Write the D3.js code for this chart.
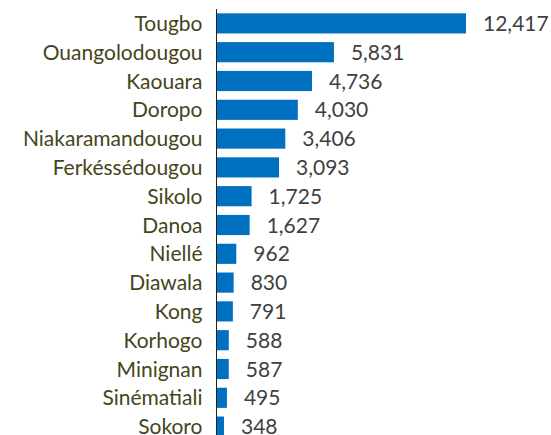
<!DOCTYPE html>
<html>
<head>
<meta charset="utf-8">
<script src="https://cdn.jsdelivr.net/npm/d3@7"></script>
<style>
  body { margin: 0; background: #fff; }
  svg { display: block; }
</style>
</head>
<body>
<script>
let communes = ["Tougbo","Ouangolodougou","Kaouara","Doropo","Niakaramandougou","Ferkéssédougou","Sikolo","Danoa","Niellé","Diawala","Kong","Korhogo","Minignan","Sinématiali","Sokoro"];
let values = [12417,5831,4736,4030,3406,3093,1725,1627,962,830,791,588,587,495,348];

let width = 551, height = 435;
let margin = {left:217, right:0, top:9, bottom:0};

let svg = d3.select("body").append("svg").attr("width",width).attr("height",height);

let x = d3.scaleLinear()
          .domain([0,12417])
          .range([margin.left, margin.left+249]);

let y = d3.scaleBand()
          .domain(communes)
          .range([margin.top, margin.top+15*28.8])
          .paddingInner(0.3)
          .paddingOuter(0.15);

let fmt = d3.format(",");

svg.selectAll("rect.bar")
   .data(values)
   .enter().append("rect")
   .attr("class","bar")
   .attr("x",x(0))
   .attr("y",(d,i)=>y(communes[i]))
   .attr("width",(d)=>x(d)-x(0))
   .attr("height",y.bandwidth())
   .attr("fill","#0070c0");

svg.selectAll("text.val")
   .data(values)
   .enter().append("text")
   .attr("class","val")
   .attr("x",(d)=>x(d)+17)
   .attr("y",(d,i)=>y(communes[i])+y.bandwidth()/2)
   .attr("dy","0.36em")
   .attr("font-family","Lato")
   .attr("font-size","21px")
   .attr("fill","#404040")
   .text((d)=>fmt(d));

let yAxis = d3.axisLeft(y).tickSize(0).tickPadding(14);
let ax = svg.append("g")
   .attr("transform","translate("+(margin.left-0.5)+",0)")
   .call(yAxis);
ax.select(".domain").attr("d","M0,"+margin.top+"V"+height).attr("stroke","#222");
ax.selectAll("text")
  .attr("dy","0.36em")
  .attr("font-family","Lato")
  .attr("font-size","21px")
  .attr("fill","#45451a");
</script>
</body>
</html>
